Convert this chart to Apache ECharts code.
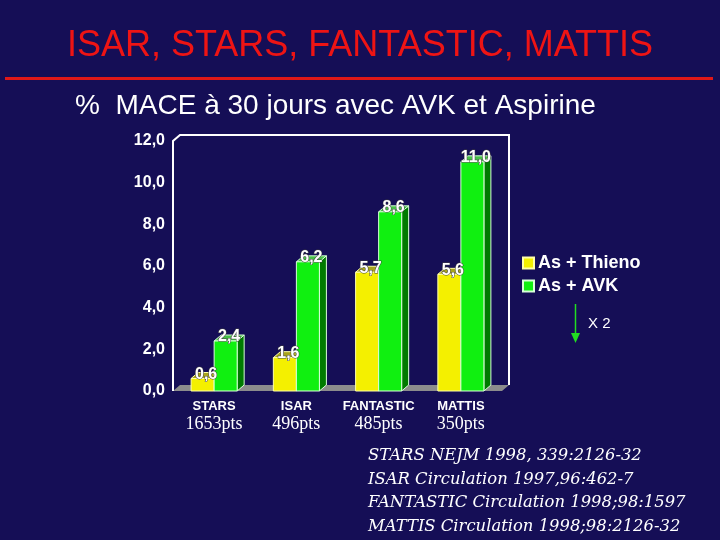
<!DOCTYPE html>
<html><head><meta charset="utf-8">
<script src="https://cdn.jsdelivr.net/npm/echarts/dist/echarts.min.js"></script>
<style>html,body{margin:0;padding:0;background:#150e56}#c{width:720px;height:540px}</style>
</head><body><div id="c"></div>
<script>
const categories = ['STARS', 'ISAR', 'FANTASTIC', 'MATTIS'];
const patients = ['1653pts', '496pts', '485pts', '350pts'];
const thieno = [0.6, 1.6, 5.7, 5.6];
const avk = [2.4, 6.2, 8.6, 11.0];
const yTicks = ['0,0', '2,0', '4,0', '6,0', '8,0', '10,0', '12,0'];
const seriesNames = ['As + Thieno', 'As + AVK'];
const references = [
  'STARS NEJM 1998, 339:2126-32',
  'ISAR Circulation 1997,96:462-7',
  'FANTASTIC Circulation 1998;98:1597',
  'MATTIS Circulation 1998;98:2126-32'
];

const SANS = '"Liberation Sans", Arial, sans-serif';
const DX = 7, DY = -6, BW = 0.28;

function barRenderer(side, c) {
  return function (params, api) {
    const cat = api.value(0), val = api.value(1);
    const base = api.coord([cat, 0]);
    const top = api.coord([cat, val]);
    const bw = api.size([1, 0])[0] * BW;
    const x0 = side < 0 ? base[0] - bw : base[0];
    const y0 = top[1], y1 = base[1];
    return {
      type: 'group', children: [
        { type: 'polygon', shape: { points: [[x0 + bw, y0], [x0 + bw + DX, y0 + DY], [x0 + bw + DX, y1 + DY], [x0 + bw, y1]] },
          style: { fill: c.side, stroke: c.edge, lineWidth: 1 } },
        { type: 'polygon', shape: { points: [[x0, y0], [x0 + DX, y0 + DY], [x0 + bw + DX, y0 + DY], [x0 + bw, y0]] },
          style: { fill: c.top, stroke: c.edge, lineWidth: 1 } },
        { type: 'rect', shape: { x: x0, y: y0, width: bw, height: y1 - y0 },
          style: { fill: c.front, stroke: c.edge, lineWidth: 1 } }
      ]
    };
  };
}
function labelRenderer(side) {
  return function (params, api) {
    const cat = api.value(0), val = api.value(1);
    const base = api.coord([cat, 0]);
    const top = api.coord([cat, val]);
    const bw = api.size([1, 0])[0] * BW;
    const x0 = side < 0 ? base[0] - bw : base[0];
    return {
      type: 'text',
      style: {
        text: val.toFixed(1).replace('.', ','),
        x: x0 + bw / 2 + DX / 2, y: top[1] - 4,
        align: 'center', verticalAlign: 'middle',
        textAlign: 'center', textVerticalAlign: 'middle',
        font: 'bold 16px ' + SANS, fill: '#ffffff', stroke: '#404040', lineWidth: 1
      }
    };
  };
}
function frameRenderer(params, api) {
  const cs = params.coordSys;
  const x = cs.x, y = cs.y, w = cs.width, b = cs.y + cs.height;
  return {
    type: 'group', children: [
      { type: 'polygon', shape: { points: [[x, b], [x + w, b], [x + w + DX, b + DY], [x + DX, b + DY]] },
        style: { fill: '#8c8c8c' } },
      { type: 'polyline', shape: { points: [[x, b], [x, y], [x + DX, y + DY], [x + w + DX, y + DY], [x + w + DX, b + DY]] },
        style: { stroke: '#ffffff', lineWidth: 2, fill: null } }
    ]
  };
}

const yellow = { front: '#f4f000', side: '#8c8a00', top: '#a8a41c', edge: '#ffffa8' };
const green = { front: '#10f010', side: '#007a00', top: '#48c048', edge: '#d8ffd8' };

const chart = echarts.init(document.getElementById('c'));
chart.setOption({
  backgroundColor: '#150e56',
  animation: false,
  grid: { left: 173, right: 218, top: 141, bottom: 149 },
  xAxis: {
    type: 'category', data: categories,
    axisLine: { show: false }, axisTick: { show: false },
    axisLabel: {
      margin: 8, interval: 0,
      formatter: function (v, i) { return '{a|' + v + '}\n{b|' + patients[i] + '}'; },
      rich: {
        a: { color: '#fff', fontFamily: SANS, fontWeight: 'bold', fontSize: 13, lineHeight: 15 },
        b: { color: '#fff', fontFamily: '"Liberation Serif", "Times New Roman", serif', fontSize: 18, lineHeight: 20 }
      }
    }
  },
  yAxis: {
    type: 'value', min: 0, max: 12, interval: 2,
    axisLine: { show: false }, axisTick: { show: false }, splitLine: { show: false },
    axisLabel: {
      margin: 8, color: '#fff', fontFamily: SANS, fontWeight: 'bold', fontSize: 16,
      formatter: function (v) { return yTicks[Math.round(v / 2)]; }
    }
  },
  legend: {
    data: seriesNames, orient: 'vertical', left: 522, top: 254, padding: 0,
    icon: 'rect', itemWidth: 11, itemHeight: 11, itemGap: 5,
    textStyle: { color: '#fff', fontFamily: SANS, fontWeight: 'bold', fontSize: 18, lineHeight: 18, padding: [0, 0, 0, -1] }
  },
  series: [
    { type: 'custom', name: 'frame', z: 1, data: [[0, 0]], encode: { x: 0, y: 1 }, renderItem: frameRenderer, silent: true },
    { type: 'custom', name: seriesNames[0], z: 2, itemStyle: { color: yellow.front, borderColor: '#ffffa8', borderWidth: 1 },
      data: thieno.map((v, i) => [i, v]), encode: { x: 0, y: 1 }, renderItem: barRenderer(-1, yellow) },
    { type: 'custom', name: seriesNames[1], z: 3, itemStyle: { color: green.front, borderColor: '#d8ffd8', borderWidth: 1 },
      data: avk.map((v, i) => [i, v]), encode: { x: 0, y: 1 }, renderItem: barRenderer(1, green) },
    { type: 'custom', name: 'lab1', z: 5, data: thieno.map((v, i) => [i, v]), encode: { x: 0, y: 1 }, renderItem: labelRenderer(-1) },
    { type: 'custom', name: 'lab2', z: 5, data: avk.map((v, i) => [i, v]), encode: { x: 0, y: 1 }, renderItem: labelRenderer(1) }
  ],
  graphic: [
    { type: 'text', z: 10, style: { text: 'ISAR, STARS, FANTASTIC, MATTIS', x: 360, y: 46, align: 'center', verticalAlign: 'middle',
        textAlign: 'center', textVerticalAlign: 'middle', font: '36px ' + SANS, fill: '#ee1414' } },
    { type: 'rect', z: 10, shape: { x: 5, y: 77, width: 708, height: 3 }, style: { fill: '#e01818' } },
    { type: 'text', z: 10, style: { text: '%  MACE à 30 jours avec AVK et Aspirine', x: 75, y: 106, verticalAlign: 'middle',
        textVerticalAlign: 'middle', font: '28px ' + SANS, fill: '#ffffff' } },
    { type: 'line', z: 10, shape: { x1: 575.5, y1: 304, x2: 575.5, y2: 336 }, style: { stroke: '#22dd22', lineWidth: 1.5 } },
    { type: 'polygon', z: 10, shape: { points: [[571, 333], [580, 333], [575.5, 343]] }, style: { fill: '#22dd22' } },
    { type: 'text', z: 10, style: { text: 'X 2', x: 588, y: 324, verticalAlign: 'middle', textVerticalAlign: 'middle',
        font: '15px ' + SANS, fill: '#ffffff' } }
  ].concat(references.map((t, i) => ({
    type: 'text', z: 10,
    style: { text: t, x: 368, y: [456, 480, 503, 527][i], verticalAlign: 'middle', textVerticalAlign: 'middle',
      font: 'italic 16.4px "DejaVu Serif", serif', fill: '#ffffff' }
  })))
});
</script>
</body></html>
